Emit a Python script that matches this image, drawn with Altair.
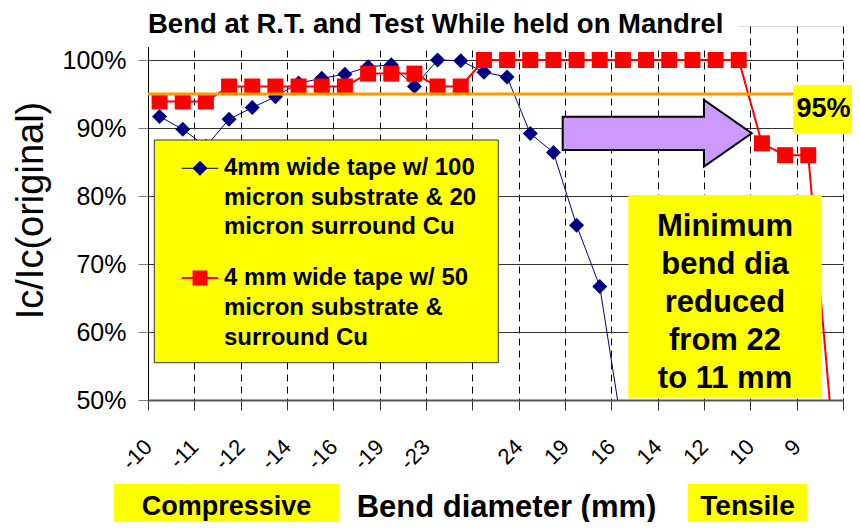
import json
import altair as alt
import pandas as pd

# ---------------- data ----------------
TITLE = "Bend at R.T. and Test While held on Mandrel"
X_TITLE = "Bend diameter (mm)"
Y_TITLE = "Ic/Ic(original)"

# labels at the category boundaries (bend diameters, mm)
X_TICK_LABELS = ["-10", "-11", "-12", "-14", "-16", "-19", "-23", "", "24",
                 "19", "16", "14", "12", "10", "9", ""]
Y_TICKS = [0.5, 0.6, 0.7, 0.8, 0.9, 1.0]

SERIES_A = "4mm wide tape w/ 100 micron substrate & 20 micron surround Cu"
SERIES_B = "4 mm wide tape w/ 50 micron substrate & surround Cu"
LEGEND_A_LINES = ["4mm wide tape w/ 100", "micron substrate & 20", "micron surround Cu"]
LEGEND_B_LINES = ["4 mm wide tape w/ 50", "micron substrate &", "surround Cu"]

# Ic/Ic(original) per bending step
blue_vals = [0.917, 0.898, 0.873, 0.913, 0.930, 0.946, 0.966, 0.973, 0.979,
             0.990, 0.993, 0.961, 1.000, 0.999, 0.982, 0.975, 0.892, 0.864,
             0.757, 0.667, 0.450]
red_vals = [0.939, 0.939, 0.939, 0.961, 0.961, 0.961, 0.961, 0.961, 0.961,
            0.980, 0.980, 0.980, 0.961, 0.961, 1.000, 1.000, 1.000, 1.000,
            1.000, 1.000, 1.000, 1.000, 1.000, 1.000, 1.000, 1.000, 0.8775,
            0.860, 0.860, 0.470]

THRESHOLD = [0.95]
THRESHOLD_LABEL = "95%"
NOTE_LINES = ["Minimum", "bend dia", "reduced", "from 22", "to 11 mm"]
LEFT_TAG = "Compressive"
RIGHT_TAG = "Tensile"

# ---------------- frames ----------------
df_a = pd.DataFrame({"step": list(range(len(blue_vals))), "value": blue_vals, "series": SERIES_A})
df_b = pd.DataFrame({"step": list(range(len(red_vals))), "value": red_vals, "series": SERIES_B})
df_t = pd.DataFrame({"threshold": THRESHOLD})
one = pd.DataFrame({"k": [0]})

FONT = "Liberation Sans"
W, H = 695, 374
NAVY = "#000080"
RED = "#FF0000"
YELLOW = "#FFFF00"

boundaries = [-0.5 + 2 * k for k in range(len(X_TICK_LABELS))]
label_expr = f"{json.dumps(X_TICK_LABELS)}[round((datum.value + 0.5) / 2)]"

x_scale = alt.Scale(domain=[-0.5, 29.5], nice=False, zero=False)
y_scale = alt.Scale(domain=[0.5, 1.05], nice=False, zero=False)

x_axis = alt.Axis(
    values=boundaries, labelExpr=label_expr, labelAngle=-45, labelAlign="right",
    labelBaseline="middle", labelFontSize=22, labelColor="black", labelPadding=33,
    labelFlush=False, labelOverlap=False, labelBound=False,
    tickSize=10, tickColor="#333333", tickWidth=1,
    domainColor="#555555", domainWidth=2,
    grid=True, gridColor="black", gridDash=[7, 5], gridWidth=1,
    title=X_TITLE, titleFontSize=31, titleFontWeight="bold", titleColor="black",
    titleX=358, titleY=107, titleAlign="center", titleBaseline="middle",
)
y_axis = alt.Axis(
    values=Y_TICKS, format=".0%", labelFontSize=25, labelColor="black",
    labelPadding=12, tickSize=10, tickColor="#808080",
    domainColor="black", domainWidth=1,
    grid=True, gridColor="#333333", gridWidth=1,
    title=Y_TITLE, titleFontSize=38, titleFontWeight="normal", titleColor="black",
    titleAngle=270, titleX=-116.5, titleY=184, titleAlign="center", titleBaseline="middle",
)

X = alt.X("step:Q", scale=x_scale, axis=x_axis)
Y = alt.Y("value:Q", scale=y_scale, axis=y_axis)

blue_line = alt.Chart(df_a).mark_line(color=NAVY, strokeWidth=1, clip=True).encode(x=X, y=Y)
blue_pts = alt.Chart(df_a).mark_point(shape="diamond", filled=True, color=NAVY, size=225,
                                      opacity=1, clip=True).encode(x=X, y=Y)
red_line = alt.Chart(df_b).mark_line(color=RED, strokeWidth=2, clip=True).encode(x=X, y=Y)
red_pts = alt.Chart(df_b).mark_point(shape="square", filled=True, color=RED, size=256,
                                     opacity=1, clip=True).encode(x=X, y=Y)

thr = alt.Chart(df_t).mark_rule(color="#FF9900", strokeWidth=3).encode(
    y=alt.Y("threshold:Q", scale=y_scale))


def text_lines(lines, x, y0, dy, size, align="left"):
    """One text mark per line, stacked downward from y0 (line centres)."""
    return [
        alt.Chart(one).mark_text(text=line, align=align, baseline="middle", font=FONT,
                                 fontSize=size, fontWeight="bold", color="black").encode(
            x=alt.value(x), y=alt.value(y0 + i * dy))
        for i, line in enumerate(lines)
    ]


# white title block over the top of the plot
title_box = alt.Chart(one).mark_rect(fill="white").encode(
    x=alt.value(-12), x2=alt.value(590), y=alt.value(-26), y2=alt.value(21))
title_txt = alt.Chart(one).mark_text(text=TITLE, align="left", baseline="alphabetic",
                                     font=FONT, fontSize=27.5, fontWeight="bold",
                                     color="black").encode(x=alt.value(0), y=alt.value(7))

# legend
leg_box = alt.Chart(one).mark_rect(fill=YELLOW, stroke="#333333", strokeWidth=1).encode(
    x=alt.value(6.3), x2=alt.value(350.3), y=alt.value(114), y2=alt.value(336.7))
leg_a_rule = alt.Chart(one).mark_rule(color=NAVY, strokeWidth=1).encode(
    x=alt.value(33.7), x2=alt.value(70.3), y=alt.value(142.3))
leg_a_pt = alt.Chart(one).mark_point(shape="diamond", filled=True, color=NAVY, size=225,
                                     opacity=1).encode(x=alt.value(52), y=alt.value(142.3))
leg_b_rule = alt.Chart(one).mark_rule(color=RED, strokeWidth=2).encode(
    x=alt.value(33.7), x2=alt.value(70.3), y=alt.value(252))
leg_b_pt = alt.Chart(one).mark_point(shape="square", filled=True, color=RED, size=225,
                                     opacity=1).encode(x=alt.value(52), y=alt.value(252))
leg_a_txt = text_lines(LEGEND_A_LINES, 76, 142, 29.5, 24)
leg_b_txt = text_lines(LEGEND_B_LINES, 76, 252, 30, 24)

# block arrow
ARROW_PATH = "M-1,-0.176L0.495,-0.176L0.495,-0.352L1,0L0.495,0.352L0.495,0.176L-1,0.176Z"
arrow = alt.Chart(one).mark_point(shape=ARROW_PATH, filled=True, fill="#CC99FF", stroke="black",
                                  strokeWidth=2, size=35721, opacity=1).encode(
    x=alt.value(509.2), y=alt.value(107.3))

# 95% label
thr_box = alt.Chart(one).mark_rect(fill=YELLOW).encode(
    x=alt.value(645.3), x2=alt.value(715), y=alt.value(59), y2=alt.value(107.3))
thr_txt = alt.Chart(one).mark_text(text=THRESHOLD_LABEL, align="center", baseline="middle",
                                   font=FONT, fontSize=27, fontWeight="bold",
                                   color="black").encode(x=alt.value(675.5), y=alt.value(83))

# note box
note_box = alt.Chart(one).mark_rect(fill=YELLOW).encode(
    x=alt.value(480.3), x2=alt.value(673.7), y=alt.value(169), y2=alt.value(372.3))
note_txt = text_lines(NOTE_LINES, 577, 200.7, 38, 31, align="center")

# bottom tags
comp_box = alt.Chart(one).mark_rect(fill=YELLOW).encode(
    x=alt.value(-34), x2=alt.value(191), y=alt.value(458), y2=alt.value(504))
comp_txt = alt.Chart(one).mark_text(text=LEFT_TAG, align="center", baseline="middle", font=FONT,
                                    fontSize=27, fontWeight="bold", color="black").encode(
    x=alt.value(78.5), y=alt.value(481))
tens_box = alt.Chart(one).mark_rect(fill=YELLOW).encode(
    x=alt.value(539.7), x2=alt.value(659.3), y=alt.value(458), y2=alt.value(504))
tens_txt = alt.Chart(one).mark_text(text=RIGHT_TAG, align="center", baseline="middle", font=FONT,
                                    fontSize=28, fontWeight="bold", color="black").encode(
    x=alt.value(599.5), y=alt.value(481))

chart = alt.layer(
    blue_line, blue_pts, red_line, red_pts, thr,
    title_box, title_txt,
    leg_box, leg_a_rule, leg_a_pt, leg_b_rule, leg_b_pt, *leg_a_txt, *leg_b_txt,
    arrow, thr_box, thr_txt, note_box, *note_txt,
    comp_box, comp_txt, tens_box, tens_txt,
).properties(
    width=W, height=H,
    padding={"left": 140, "top": 18, "right": 9, "bottom": 122},
    autosize=alt.AutoSizeParams(type="none"),
    background="white",
).configure_view(
    fill="#FFFFCC", stroke="#808080", strokeWidth=1,
).configure(font=FONT)

chart.save("out.html", embed_options={"renderer": "svg", "actions": False})
